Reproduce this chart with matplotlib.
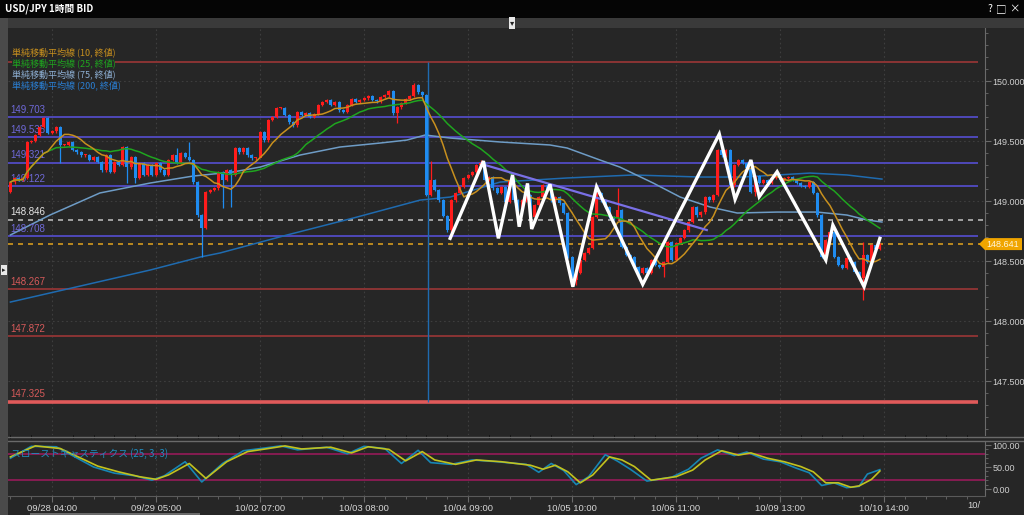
import numpy as np
import pandas as pd
import matplotlib.pyplot as plt
from matplotlib.patches import Rectangle, Polygon

plt.rcParams['font.family'] = ['Noto Sans CJK JP', 'DejaVu Sans']
NUMFONT = ['Liberation Sans', 'DejaVu Sans']

# 1時間足 終値（始値は前の足の終値）
first_open = 149.075
closes = [
    149.158, 149.192, 149.175, 149.192, 149.492, 149.500, 149.550, 149.617, 149.692, 149.567,
    149.583, 149.617, 149.467, 149.467, 149.492, 149.425, 149.408, 149.383, 149.383, 149.342,
    149.367, 149.325, 149.258, 149.383, 149.242, 149.325, 149.300, 149.450, 149.283, 149.367,
    149.192, 149.317, 149.217, 149.300, 149.217, 149.317, 149.258, 149.217, 149.342, 149.383,
    149.317, 149.400, 149.367, 149.342, 149.158, 148.883, 148.775, 149.075, 149.092, 149.108,
    149.242, 149.175, 149.258, 149.217, 149.442, 149.408, 149.442, 149.383, 149.358, 149.358,
    149.575, 149.508, 149.675, 149.700, 149.775, 149.775, 149.717, 149.658, 149.633, 149.742,
    149.717, 149.733, 149.700, 149.725, 149.800, 149.825, 149.842, 149.800, 149.825, 149.758,
    149.742, 149.800, 149.850, 149.825, 149.842, 149.858, 149.875, 149.842, 149.833, 149.867,
    149.883, 149.917, 149.733, 149.783, 149.817, 149.850, 149.875, 149.967, 149.908, 149.883,
    149.050, 149.175, 149.092, 149.008, 148.875, 148.758, 149.008, 149.067, 149.117, 149.192,
    149.217, 149.242, 149.300, 149.317, 149.175, 149.200, 149.108, 149.067, 149.117, 148.992,
    149.175, 149.008, 148.925, 149.008, 149.050, 148.867, 148.967, 149.033, 149.133, 149.092,
    149.008, 149.033, 148.983, 148.900, 148.533, 148.342, 148.400, 148.508, 148.567, 148.608,
    148.867, 149.067, 149.008, 148.950, 148.867, 148.858, 148.925, 148.617, 148.550, 148.533,
    148.450, 148.400, 148.442, 148.400, 148.508, 148.467, 148.450, 148.492, 148.658, 148.508,
    148.650, 148.692, 148.758, 148.825, 148.950, 148.883, 148.908, 149.033, 149.008, 149.050,
    149.425, 149.383, 149.425, 149.133, 149.300, 149.342, 149.317, 149.275, 149.075, 149.208,
    149.150, 149.175, 149.150, 149.192, 149.200, 149.175, 149.192, 149.200, 149.175, 149.150,
    149.125, 149.117, 149.158, 149.067, 148.883, 148.533, 148.675, 148.742, 148.533, 148.467,
    148.442, 148.525, 148.492, 148.408, 148.358, 148.550, 148.492, 148.633, 148.600, 148.642,
]
# 目立つヒゲ
wick_high = {8: 149.700, 9: 149.700, 40: 149.440, 43: 149.490, 97: 149.985,
             101: 149.330, 146: 149.108, 205: 148.658, 113: 149.340}
wick_low = {12: 149.317, 28: 149.150, 30: 149.150, 46: 148.533, 51: 148.942,
            53: 148.950, 60: 149.410, 93: 149.650, 136: 148.300, 157: 148.367,
            179: 149.040, 205: 148.175}
WICK = 0.012

# 長期移動平均（チャートから読み取り）
ma75_idx = [0, 9.5, 21.5, 33.6, 43.9, 53.5, 60, 69.6, 79.2, 88.8, 95.3, 99.7, 105.7, 117.7,
            129.7, 133.8, 141.7, 146.5, 154.5, 161, 168.2, 174.7, 184.3, 193.9, 201.1, 205.9, 209.5]
ma75_val = [148.717, 148.883, 149.067, 149.150, 149.208, 149.242, 149.283, 149.383, 149.450,
            149.483, 149.508, 149.550, 149.525, 149.492, 149.467, 149.442, 149.342, 149.283,
            149.150, 149.033, 148.950, 148.900, 148.908, 148.908, 148.883, 148.842, 148.825]
ma200_idx = [0, 33.6, 45.6, 50.4, 66.5, 82.4, 98.5, 105.7, 117.7, 133.8, 149.7, 165.8,
             176.1, 192.2, 201.1, 209.5]
ma200_val = [148.158, 148.425, 148.533, 148.567, 148.717, 148.858, 149.008, 149.033, 149.158,
             149.192, 149.217, 149.200, 149.200, 149.233, 149.217, 149.183]

# スローストキャスティクス
stoch_k_idx = [0, 5, 11, 20, 25, 30, 34, 37, 42, 46, 51, 56, 61, 65, 69, 76, 81, 85, 90, 94,
               98, 101, 106, 111, 117, 124, 127, 130, 133, 136, 139, 143, 146, 149, 153, 159,
               163, 166, 170, 174, 177, 181, 185, 189, 192, 195, 198, 201, 204, 206, 209]
stoch_k = [70, 97, 96, 50, 36, 30, 20, 30, 62, 16, 58, 87, 93, 98, 89, 95, 80, 97, 92, 58,
           88, 60, 56, 66, 62, 56, 38, 58, 42, 10, 28, 78, 63, 45, 18, 27,
           45, 70, 89, 76, 84, 68, 62, 47, 37, 8, 14, 3, 6, 34, 44]
stoch_d_idx = [0, 6, 12, 21, 26, 31, 35, 38, 43, 47, 52, 57, 62, 66, 70, 77, 82, 86, 91, 95,
               99, 102, 107, 112, 118, 125, 128, 131, 134, 137, 140, 144, 147, 150, 154, 160,
               164, 167, 171, 175, 178, 182, 186, 190, 193, 196, 199, 202, 204, 207, 209]
stoch_d = [73, 98, 92, 52, 39, 28, 22, 32, 58, 24, 62, 85, 92, 98, 91, 95, 82, 96, 90, 64,
           85, 66, 56, 66, 62, 54, 45, 54, 39, 14, 32, 73, 66, 51, 20, 28,
           43, 66, 87, 77, 82, 70, 62, 51, 39, 14, 14, 4, 7, 22, 41]

# 描画ライン
zigzag_idx = [105.7, 113.7, 117.3, 120.7, 122.3, 124.3, 125.3, 129.7, 135.2, 140.9, 152.0,
              170.4, 174.2, 178.0, 180.0, 184.3, 196.0, 197.7, 205.2, 209.0]
zigzag_val = [148.689, 149.333, 148.689, 149.217, 148.786, 149.147, 148.767, 149.139, 148.286,
              149.119, 148.306, 149.558, 149.014, 149.342, 149.036, 149.244, 148.508, 148.800,
              148.286, 148.689]
trend_idx = [114.1, 167.4]
trend_val = [149.300, 148.758]
vline_idx = 100.4

purple_levels = [149.703, 149.535, 149.321, 149.122, 148.708]
red_levels = [150.158, 148.267, 147.872]
bottom_level = 147.325
white_level = 148.846
current_price = 148.641

tick_idx = [10, 35, 60, 85, 110, 135, 160, 185, 210]
tick_labels = ['09/28 04:00', '09/29 05:00', '10/02 07:00', '10/03 08:00', '10/04 09:00',
               '10/05 10:00', '10/06 11:00', '10/09 13:00', '10/10 14:00']

BG = '#262626'
W, H = 1024, 515


def fx(px):
    return px / W


def fy(py):
    return 1 - py / H


fig = plt.figure(figsize=(10.24, 5.15), dpi=100, facecolor=BG)
ax = fig.add_axes([fx(8), fy(435), fx(985 - 8), (435 - 28) / H])
axs = fig.add_axes([fx(8), fy(496), fx(985 - 8), (496 - 441) / H], sharex=ax)
for a in (ax, axs):
    a.set_facecolor(BG)
    for s in ('top', 'left', 'bottom'):
        a.spines[s].set_visible(False)
    a.spines['right'].set_color('#6a6a6a')
    a.yaxis.tick_right()
    a.tick_params(axis='y', colors='#6a6a6a', labelcolor='#cfcfcf', labelsize=6.5, length=4,
                  pad=1.5)
    a.tick_params(axis='y', which='minor', colors='#6a6a6a', length=2.5)
    a.set_xticks(tick_idx)
    for t in tick_idx:
        a.axvline(t, color='#3e3e3e', lw=0.8, ls=(0, (1.5, 2.5)), zorder=0)

ax.set_xlim(-0.58, 234.27)
ax.set_ylim(147.05, 150.442)
ax.set_yticks([147.5, 148.0, 148.5, 149.0, 149.5, 150.0])
ax.set_yticks(np.arange(147.1, 150.45, 0.1), minor=True)
ax.set_yticklabels(['147.500', '148.000', '148.500', '149.000', '149.500', '150.000'],
                   family=NUMFONT)
ax.tick_params(axis='x', length=0, labelbottom=False)
for p in [147.5, 148.0, 148.5, 149.0, 149.5, 150.0]:
    ax.axhline(p, color='#3e3e3e', lw=0.8, ls=(0, (1.5, 2.5)), zorder=0)

# 水平線
xr = 232.6


def level_label(p, color, dy=1.5):
    ax.annotate(f'{p:.3f}', xy=(0.002, p), xycoords=('axes fraction', 'data'), xytext=(0, dy),
                textcoords='offset points', color=color, fontsize=7, va='bottom', family=NUMFONT)


for p in purple_levels:
    ax.hlines(p, -0.58, xr, color='#4f48b8', lw=1.4, zorder=1)
    level_label(p, '#6f69d8')
for p in red_levels:
    ax.hlines(p, -0.58, xr, color='#8a3434', lw=1.4, zorder=1)
    level_label(p, '#d65a5a')
ax.hlines(bottom_level, -0.58, xr, color='#e05a5a', lw=2.6, zorder=1)
level_label(bottom_level, '#d65a5a', dy=2.5)
ax.hlines(white_level, -0.58, 234.27, color='#b5b5b5', lw=1.2, ls=(0, (3, 3)), zorder=1)
level_label(white_level, '#e6e6e6')
ax.hlines(current_price, -0.58, 234.27, color='#d49a1e', lw=1.2, ls=(0, (3, 3)), zorder=1)
ax.vlines(vline_idx, bottom_level, red_levels[0], color='#1f6bb0', lw=1.0, zorder=1)

# ローソク足
c = np.array(closes)
o = np.array([first_open] + closes[:-1])
idx = np.arange(len(c))
up = c >= o
col = np.where(up, '#ff1c1c', '#1f8cf0')
hi = np.maximum(o, c) + WICK
lo = np.minimum(o, c) - WICK
for k, v in wick_high.items():
    hi[k] = v
for k, v in wick_low.items():
    lo[k] = v
ax.vlines(idx, lo, hi, colors=col, lw=0.9, zorder=3)
ax.bar(idx, np.maximum(np.abs(c - o), 0.006), bottom=np.minimum(o, c), width=0.72,
       color=col, linewidth=0, zorder=3)

# 移動平均
s = pd.Series(closes)
ax.plot(ma200_idx, ma200_val, color='#1f6bb0', lw=1.1, zorder=2)
ax.plot(ma75_idx, ma75_val, color='#6e9cc6', lw=1.1, zorder=2)
ax.plot(idx, s.rolling(25, min_periods=1).mean(), color='#1fa51f', lw=1.1, zorder=4)
ax.plot(idx, s.rolling(10, min_periods=1).mean(), color='#c8901e', lw=1.1, zorder=4)

ax.plot(trend_idx, trend_val, color='#7a70e6', lw=1.6, zorder=5)
ax.plot(zigzag_idx, zigzag_val, color='white', lw=2.4, zorder=6, solid_joinstyle='miter')

# 凡例（背景で水平線を隠す）
ax.add_patch(Rectangle((0.004, 0.843), 0.106, 0.113, transform=ax.transAxes,
                       facecolor=BG, edgecolor='none', zorder=10))
legend_items = [('単純移動平均線 (10, 終値)', '#c8901e'), ('単純移動平均線 (25, 終値)', '#1fa51f'),
                ('単純移動平均線 (75, 終値)', '#8eb0d4'), ('単純移動平均線 (200, 終値)', '#2a7fd4')]
for n, (txt, cl) in enumerate(legend_items):
    ax.text(0.0045, (435 - (52 + n * 11)) / 407, txt, transform=ax.transAxes, color=cl,
            fontsize=6.5, va='center', zorder=11)

# ストキャスティクス
axs.set_ylim(-15.9, 109.1)
axs.set_yticks([0, 50, 100])
axs.set_yticklabels(['0.00', '50.00', '100.00'], family=NUMFONT)
axs.set_yticks(np.arange(0, 101, 10), minor=True)
axs.axhline(80, color='#a01a5e', lw=1.1)
axs.axhline(20, color='#a01a5e', lw=1.1)
axs.plot(stoch_k_idx, stoch_k, color='#1786b4', lw=1.2)
axs.plot(stoch_d_idx, stoch_d, color='#c2c21e', lw=1.2)
axs.spines['bottom'].set_visible(True)
axs.spines['bottom'].set_color('#5a5a5a')
axs.set_xticks(np.arange(0, 235, 5), minor=True)
axs.set_xticklabels(tick_labels, family=NUMFONT)
axs.tick_params(axis='x', colors='#6a6a6a', labelcolor='#d6d6d6', labelsize=6.8, length=4, pad=1.5)
axs.tick_params(axis='x', which='minor', colors='#6a6a6a', length=2.5)
axs.text(0.003, 0.78, 'スローストキャスティクス (25, 3, 3)', transform=axs.transAxes,
         color='#1f8cc0', fontsize=7, va='center')

# 枠
fig.patches.append(Rectangle((0, fy(18)), 1, 18 / H, transform=fig.transFigure,
                             facecolor='#050505', edgecolor='none', zorder=7))
fig.patches.append(Rectangle((0, fy(28)), 1, 10 / H, transform=fig.transFigure,
                             facecolor='#3a3a3a', edgecolor='none', zorder=7))
fig.patches.append(Rectangle((0, 0), fx(8), fy(18), transform=fig.transFigure,
                             facecolor='#4a4a4a', edgecolor='none', zorder=7))
fig.text(fx(5), fy(9), 'USD/JPY 1時間 BID', color='white', fontsize=7, fontweight='bold',
         va='center', zorder=8)
for xpx, t in [(990, '?'), (1001, '□'), (1014, '×')]:
    fig.text(fx(xpx), fy(9), t, color='white', fontsize=7.5, va='center', ha='center', zorder=8)
fig.text(fx(512), fy(23), '▾', color='#222222', fontsize=6, ha='center', va='center', zorder=8,
         bbox=dict(boxstyle='square,pad=0.15', facecolor='#e8e8e8', edgecolor='none'))
fig.text(fx(4), fy(270), '▸', color='#222222', fontsize=5, ha='center', va='center', zorder=8,
         bbox=dict(boxstyle='square,pad=0.15', facecolor='#e8e8e8', edgecolor='none'))
for ypx in (437, 441):
    fig.lines.append(plt.Line2D([fx(8), 1], [fy(ypx), fy(ypx)], transform=fig.transFigure,
                                color='#6a6a6a', lw=1))
fig.patches.append(Rectangle((fx(30), 0), fx(170), 2 / H, transform=fig.transFigure,
                             facecolor='#6a6a6a', edgecolor='none'))
fig.text(fx(967), fy(506), '10/', color='#d6d6d6', fontsize=6.8, va='center', family=NUMFONT)

# 現在値タグ
py = ax.transData.transform((0, current_price))[1] / H
fig.patches.append(Polygon([[fx(979), py], [fx(985), py + 6 / H], [fx(1022), py + 6 / H],
                            [fx(1022), py - 6 / H], [fx(985), py - 6 / H]],
                           closed=True, transform=fig.transFigure, facecolor='#f0a500',
                           edgecolor='none', zorder=8))
fig.text(fx(1003), py, f'{current_price:.3f}', color='#fff6dc', fontsize=6.5, ha='center',
         va='center', zorder=9, family=NUMFONT)

fig.savefig('out.png', dpi=100, facecolor=BG)
